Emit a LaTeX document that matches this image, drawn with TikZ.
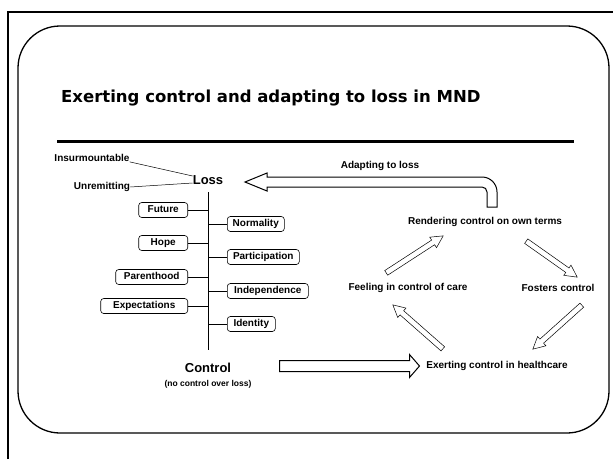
\documentclass[tikz,border=0pt]{standalone}
\usepackage{fontspec}
\setmainfont{Liberation Sans}
\newfontfamily\headfont{DejaVu Sans}
\usetikzlibrary{shapes.arrows,calc}

\tikzset{
	lbl/.style={font=\bfseries\fontsize{10}{12}\selectfont, inner sep=0pt},
	big/.style={font=\bfseries\fontsize{13}{15}\selectfont, inner sep=0pt},
	topic/.style={lbl, draw, rounded corners=3pt, line width=0.6pt,
	              minimum height=15pt, text height=7.5pt, text depth=2pt},
	hollow/.style={single arrow, draw, line width=0.5pt, inner sep=2.5pt,
	               single arrow head extend=3.5pt, single arrow tip angle=55,
	               sloped, allow upside down, anchor=tail, pos=0},
}

\begin{document}
\begin{tikzpicture}[x=1pt,y=-1pt]
	
	\useasboundingbox (0,0) rectangle (613,459);
	
	% The frame
	\draw [line width=1.5pt] (8,459) -- (8,12) -- (613,12);
	\draw [line width=1.3pt, rounded corners=42pt] (18,26) rectangle (609,433);
	
	% The title
	\node [font=\headfont\bfseries\fontsize{16.5}{19}\selectfont, anchor=west, inner sep=0pt]
	      (title) at (61,98) {Exerting control and adapting to loss in MND};
	\draw [line width=3pt] (57,141) -- (574,141);
	
	% Loss and its kinds
	\node [big] (loss) at (208,180) {Loss};
	\node [lbl] (ins) at (92,158) {Insurmountable};
	\node [lbl] (unr) at (102,187) {Unremitting};
	\draw [line width=0.5pt] (ins.south east) -- ([yshift=4pt]loss.west);
	\draw [line width=0.5pt] (unr.east) -- ([yshift=-3pt]loss.west);
	
	% The line from loss to control
	\coordinate (top) at (208,192);
	\coordinate (bot) at (208,350);
	\draw [line width=0.8pt] (top) -- (bot);
	
	% The things lost
	\foreach \name/\y/\w in {Future/210/49, Hope/243/49, Parenthood/277/72, Expectations/306/87}{
		\node [topic, anchor=east, minimum width=\w] (\name) at (188,\y) {\name};
		\draw [line width=0.8pt] (\name.east) -- (\name.east -| top);
	}
	\foreach \name/\y/\w in {Normality/224/57, Participation/257/72, Independence/291/81, Identity/324/48}{
		\node [topic, anchor=west, minimum width=\w] (\name) at (227,\y) {\name};
		\draw [line width=0.8pt] (\name.west -| top) -- (\name.west);
	}
	
	% Control
	\node [big] (control) at (208,368) {Control};
	\node [font=\bfseries\fontsize{8.5}{10}\selectfont, inner sep=0pt] (nocontrol) at (208,384) {(no control over loss)};
	
	% The cycle
	\node [lbl] (rend) at (485,222) {Rendering control on own terms};
	\node [lbl] (feel) at (408,288) {Feeling in control of care};
	\node [lbl] (fost) at (558,288) {Fosters control};
	\node [lbl] (exer) at (497,366) {Exerting control in healthcare};
	
	\coordinate (t1) at (386,273); \coordinate (h1) at (443,236);
	\coordinate (t2) at (526,241); \coordinate (h2) at (577,277);
	\coordinate (t3) at (582,305); \coordinate (h3) at (533,349);
	\coordinate (t4) at (443,349); \coordinate (h4) at (393,305);
	\foreach \a/\b in {t1/h1, t2/h2, t3/h3, t4/h4}{
		\path let \p1 = ($(\b)-(\a)$), \n1 = {veclen(\x1,\y1)} in
		      (\a) -- node [hollow, minimum height=\n1] {} (\b);
	}
	
	% Control leads to exerting control
	\coordinate (ctail) at (279,366);
	\coordinate (ctip) at (419,366);
	\path let \p1 = ($(ctip)-(ctail)$), \n1 = {veclen(\x1,\y1)} in
	      (ctail) -- node [hollow, minimum height=\n1, line width=1pt, inner sep=5pt,
	                       single arrow head extend=6pt, single arrow tip angle=98] {} (ctip);
	
	% Adapting to loss
	\node [lbl] (adapt) at (380,166) {Adapting to loss};
	\draw [line width=1pt] (245,182) -- (267,173) -- (267,177) -- (482,177)
	      .. controls (490.3,177) and (497,183.7) .. (497,192) -- (497,207)
	      -- (487,207) -- (487,192)
	      .. controls (487,189.2) and (484.8,187) .. (482,187)
	      -- (267,187) -- (267,191) -- cycle;
	
\end{tikzpicture}
\end{document}
